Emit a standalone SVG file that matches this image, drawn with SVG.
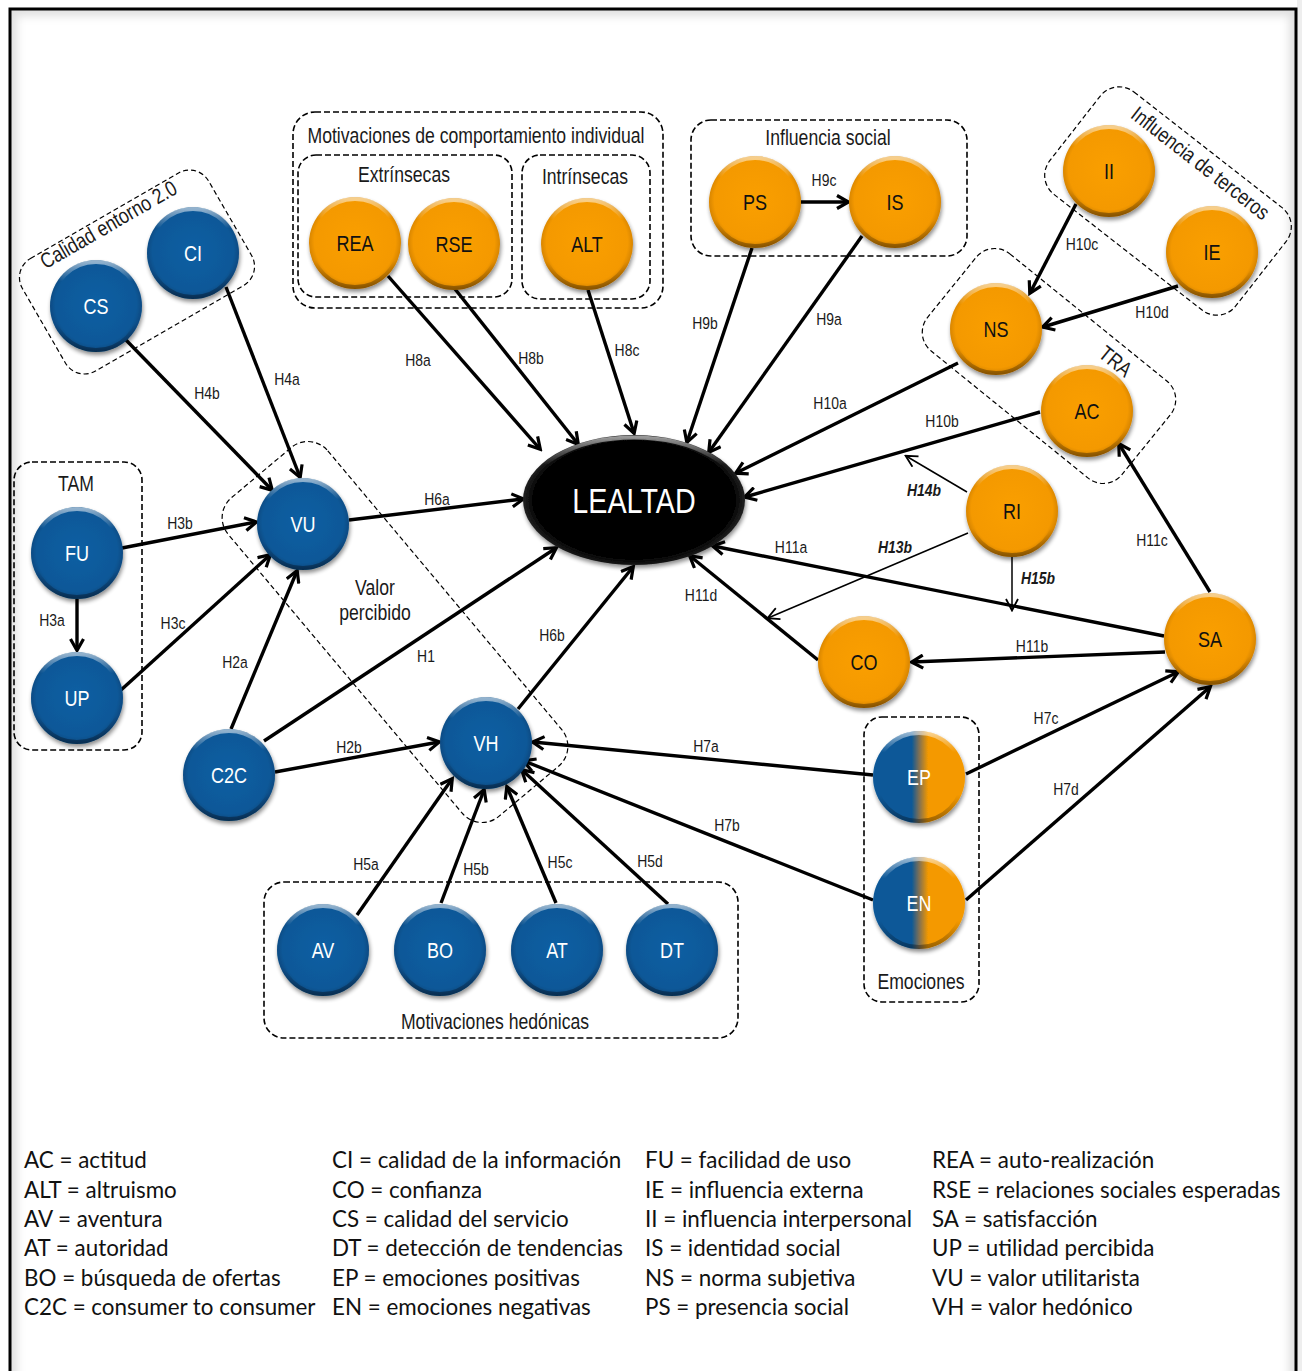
<svg xmlns="http://www.w3.org/2000/svg" width="1302" height="1371" viewBox="0 0 1302 1371">
  <style>
    /* condensed sans: Liberation Sans squeezed horizontally via each text's matrix() */
    .nar { font-family: "Liberation Sans", Arial, sans-serif; }
    .nl { font-size: 22px; text-anchor: middle; }
    .nl.w { fill: #ffffff; }
    .nl.k { fill: #111111; }
    .el { font-size: 17px; text-anchor: middle; fill: #1a1a1a; }
    .el.bi { font-weight: bold; font-style: italic; }
    .gt { font-size: 21.5px; text-anchor: middle; fill: #1a1a1a; }
    .box { fill: none; stroke: #000; stroke-width: 1.6; stroke-dasharray: 6 3; }
    .box.f { stroke-width: 1.2; stroke-dasharray: 5 3; }
    .e { fill: none; stroke: #000; stroke-width: 3.4; marker-end: url(#ah); }
    .e.t { stroke-width: 1.5; marker-end: url(#aht); }
    .rim { fill: none; stroke: url(#gRim); stroke-width: 4; }
    .leg { font-family: Lato, "Open Sans", sans-serif; font-size: 22.4px; fill: #111; }
  </style>
  <defs>
    <marker id="ah" viewBox="0 0 16 16" refX="12.5" refY="8" markerWidth="16" markerHeight="16" markerUnits="userSpaceOnUse" orient="auto">
      <path d="M1.5,1.5 L13,8 L1.5,14.5" fill="none" stroke="#000" stroke-width="3.2"/>
    </marker>
    <marker id="aht" viewBox="0 0 14 14" refX="12" refY="7" markerWidth="14" markerHeight="14" markerUnits="userSpaceOnUse" orient="auto">
      <path d="M1,1 L12.5,7 L1,13" fill="none" stroke="#000" stroke-width="1.8"/>
    </marker>
    <radialGradient id="gBlue" cx="50%" cy="48%" r="52%">
      <stop offset="0" stop-color="#0c5fa3"/>
      <stop offset="0.85" stop-color="#0a5898"/>
      <stop offset="1" stop-color="#07467c"/>
    </radialGradient>
    <radialGradient id="gOrange" cx="50%" cy="48%" r="52%">
      <stop offset="0" stop-color="#fa9f00"/>
      <stop offset="0.85" stop-color="#f49900"/>
      <stop offset="1" stop-color="#cf7f00"/>
    </radialGradient>
    <linearGradient id="gMix" x1="0" y1="0" x2="1" y2="0">
      <stop offset="0" stop-color="#0a5898"/>
      <stop offset="0.42" stop-color="#0a5898"/>
      <stop offset="0.5" stop-color="#7d6f55"/>
      <stop offset="0.6" stop-color="#f49900"/>
      <stop offset="1" stop-color="#f49900"/>
    </linearGradient>
    <radialGradient id="gBlack" cx="50%" cy="50%" r="50%">
      <stop offset="0" stop-color="#000"/>
      <stop offset="0.9" stop-color="#000"/>
      <stop offset="1" stop-color="#222"/>
    </radialGradient>
    <linearGradient id="gRim" x1="0" y1="0" x2="0" y2="1">
      <stop offset="0" stop-color="#fff" stop-opacity="0.55"/>
      <stop offset="0.22" stop-color="#fff" stop-opacity="0"/>
      <stop offset="0.7" stop-color="#000" stop-opacity="0"/>
      <stop offset="1" stop-color="#000" stop-opacity="0.35"/>
    </linearGradient>
    <filter id="sh" x="-25%" y="-25%" width="150%" height="155%">
      <feGaussianBlur in="SourceAlpha" stdDeviation="2"/>
      <feOffset dx="1" dy="2.5" result="o"/>
      <feComponentTransfer><feFuncA type="linear" slope="0.45"/></feComponentTransfer>
      <feMerge><feMergeNode/><feMergeNode in="SourceGraphic"/></feMerge>
    </filter>
    <filter id="soft" x="-5%" y="-5%" width="110%" height="110%">
      <feGaussianBlur stdDeviation="4"/>
    </filter>
    <clipPath id="frameClip"><rect x="10" y="9" width="1286" height="1400"/></clipPath>
  </defs>

  <!-- page frame -->
  <rect x="0" y="0" width="1302" height="1371" fill="#ffffff"/>
  <rect x="1297" y="0" width="5" height="1371" fill="#eeeeee"/>
  <rect x="10" y="9" width="1286" height="1400" fill="#ffffff"/>
  <g clip-path="url(#frameClip)">
    <rect x="10" y="9" width="1286" height="1400" fill="none" stroke="#000" stroke-opacity="0.12" stroke-width="14" filter="url(#soft)"/>
  </g>
  <rect x="10" y="9" width="1286" height="1400" fill="none" stroke="#000" stroke-width="3"/>

  <!-- group frames -->
  <g id="groups" class="nar">
    <g id="grp-calidad">
      <rect class="box f" x="29.5" y="207" width="215" height="130" rx="22" transform="rotate(-30 137 272)"/>
      <text class="gt" font-size="20" transform="translate(112 231) rotate(-30) scale(0.82 1)">Calidad entorno 2.0</text>
    </g>
    <g id="grp-motivaciones">
      <rect class="box" x="293" y="112" width="370" height="196" rx="22"/>
      <text class="gt" transform="matrix(0.82 0 0 1 476 143)">Motivaciones de comportamiento individual</text>
      <rect class="box" x="298" y="155" width="214" height="142" rx="18"/>
      <text class="gt" transform="matrix(0.82 0 0 1 404 182)">Extrínsecas</text>
      <rect class="box" x="522" y="155" width="128" height="144" rx="18"/>
      <text class="gt" transform="matrix(0.82 0 0 1 585 184)">Intrínsecas</text>
    </g>
    <g id="grp-social">
      <rect class="box" x="691" y="120" width="276" height="136" rx="20"/>
      <text class="gt" transform="matrix(0.82 0 0 1 828 145)">Influencia social</text>
    </g>
    <g id="grp-terceros">
      <rect class="box f" x="1050" y="136" width="236" height="130" rx="24" transform="rotate(38 1168 201)"/>
      <text class="gt" font-size="20" transform="translate(1196 169) rotate(38) scale(0.82 1)">Influencia de terceros</text>
    </g>
    <g id="grp-tra">
      <rect class="box f" x="924" y="303.5" width="250" height="125" rx="24" transform="rotate(39 1049 366)"/>
      <text class="gt" font-size="20" transform="translate(1111 367) rotate(39) scale(0.82 1)">TRA</text>
    </g>
    <g id="grp-tam">
      <rect class="box" x="14" y="462" width="128" height="288" rx="18"/>
      <text class="gt" transform="matrix(0.82 0 0 1 76 491)">TAM</text>
    </g>
    <g id="grp-valor">
      <rect class="box f" x="187" y="567" width="416" height="130" rx="26" transform="rotate(50 395 632)"/>
      <text class="gt" transform="matrix(0.82 0 0 1 375 595)">Valor</text>
      <text class="gt" transform="matrix(0.82 0 0 1 375 620)">percibido</text>
    </g>
    <g id="grp-hedonicas">
      <rect class="box" x="264" y="882" width="474" height="156" rx="20"/>
      <text class="gt" transform="matrix(0.82 0 0 1 495 1029)">Motivaciones hedónicas</text>
    </g>
    <g id="grp-emociones">
      <rect class="box" x="864" y="717" width="115" height="285" rx="18"/>
      <text class="gt" transform="matrix(0.82 0 0 1 921 989)">Emociones</text>
    </g>
  </g>

  <!-- connectors -->
  <g id="connectors">
    <path class="e" d="M126,340 L272,490"/>
    <path class="e" d="M226,287 L300,477"/>
    <path class="e" d="M122,548 L256,522"/>
    <path class="e" d="M77,599 L77,650"/>
    <path class="e" d="M121,690 L270,555"/>
    <path class="e" d="M231,729 L297,571"/>
    <path class="e" d="M264,741 L556,548"/>
    <path class="e" d="M275,772 L439,742"/>
    <path class="e" d="M349,520 L523,499"/>
    <path class="e" d="M518,709 L633,567"/>
    <path class="e" d="M388,276 L540,449"/>
    <path class="e" d="M455,289 L578,444"/>
    <path class="e" d="M588,290 L634,433"/>
    <path class="e" d="M752,248 L687,442"/>
    <path class="e" d="M862,236 L709,452"/>
    <path class="e" d="M801,202 L848,202"/>
    <path class="e" d="M1076,204 L1030,293"/>
    <path class="e" d="M1178,286 L1043,327"/>
    <path class="e" d="M958,363 L736,473"/>
    <path class="e" d="M1040,412 L745,497"/>
    <path class="e t" d="M967,492 L906,456"/>
    <path class="e t" d="M968,533 L768,618"/>
    <path class="e t" d="M1012,557 L1012,610"/>
    <path class="e" d="M1164,636 L713,546"/>
    <path class="e" d="M1165,652 L912,662"/>
    <path class="e" d="M1210,592 L1119,444"/>
    <path class="e" d="M818,660 L690,556"/>
    <path class="e" d="M873,775 L533,742"/>
    <path class="e" d="M873,900 L524,761"/>
    <path class="e" d="M966,774 L1178,672"/>
    <path class="e" d="M966,900 L1210,687"/>
    <path class="e" d="M357,915 L452,779"/>
    <path class="e" d="M441,903 L484,790"/>
    <path class="e" d="M556,903 L507,787"/>
    <path class="e" d="M668,904 L522,770"/>
    <g class="nar">
      <text class="el" transform="matrix(0.82 0 0 1 207 399)">H4b</text>
      <text class="el" transform="matrix(0.82 0 0 1 287 385)">H4a</text>
      <text class="el" transform="matrix(0.82 0 0 1 180 529)">H3b</text>
      <text class="el" transform="matrix(0.82 0 0 1 52 626)">H3a</text>
      <text class="el" transform="matrix(0.82 0 0 1 173 629)">H3c</text>
      <text class="el" transform="matrix(0.82 0 0 1 235 668)">H2a</text>
      <text class="el" transform="matrix(0.82 0 0 1 426 662)">H1</text>
      <text class="el" transform="matrix(0.82 0 0 1 349 753)">H2b</text>
      <text class="el" transform="matrix(0.82 0 0 1 437 505)">H6a</text>
      <text class="el" transform="matrix(0.82 0 0 1 552 641)">H6b</text>
      <text class="el" transform="matrix(0.82 0 0 1 418 366)">H8a</text>
      <text class="el" transform="matrix(0.82 0 0 1 531 364)">H8b</text>
      <text class="el" transform="matrix(0.82 0 0 1 627 356)">H8c</text>
      <text class="el" transform="matrix(0.82 0 0 1 705 329)">H9b</text>
      <text class="el" transform="matrix(0.82 0 0 1 829 325)">H9a</text>
      <text class="el" transform="matrix(0.82 0 0 1 824 186)">H9c</text>
      <text class="el" transform="matrix(0.82 0 0 1 1082 250)">H10c</text>
      <text class="el" transform="matrix(0.82 0 0 1 1152 318)">H10d</text>
      <text class="el" transform="matrix(0.82 0 0 1 830 409)">H10a</text>
      <text class="el" transform="matrix(0.82 0 0 1 942 427)">H10b</text>
      <text class="el bi" transform="matrix(0.82 0 0 1 924 496)">H14b</text>
      <text class="el bi" transform="matrix(0.82 0 0 1 895 553)">H13b</text>
      <text class="el bi" transform="matrix(0.82 0 0 1 1038 584)">H15b</text>
      <text class="el" transform="matrix(0.82 0 0 1 791 553)">H11a</text>
      <text class="el" transform="matrix(0.82 0 0 1 1032 652)">H11b</text>
      <text class="el" transform="matrix(0.82 0 0 1 1152 546)">H11c</text>
      <text class="el" transform="matrix(0.82 0 0 1 701 601)">H11d</text>
      <text class="el" transform="matrix(0.82 0 0 1 706 752)">H7a</text>
      <text class="el" transform="matrix(0.82 0 0 1 727 831)">H7b</text>
      <text class="el" transform="matrix(0.82 0 0 1 1046 724)">H7c</text>
      <text class="el" transform="matrix(0.82 0 0 1 1066 795)">H7d</text>
      <text class="el" transform="matrix(0.82 0 0 1 366 870)">H5a</text>
      <text class="el" transform="matrix(0.82 0 0 1 476 875)">H5b</text>
      <text class="el" transform="matrix(0.82 0 0 1 560 868)">H5c</text>
      <text class="el" transform="matrix(0.82 0 0 1 650 867)">H5d</text>
    </g>
  </g>

  <!-- nodes -->
  <g id="nodes" class="nar">
    <g id="node-LEALTAD">
      <ellipse cx="634" cy="500" rx="111" ry="65" fill="url(#gBlack)" filter="url(#sh)"/>
      <ellipse cx="634" cy="500" rx="108.5" ry="62.5" fill="none" stroke="url(#gRim)" stroke-width="4"/>
      <text font-size="35" text-anchor="middle" fill="#fff" transform="matrix(0.82 0 0 1 634 513)">LEALTAD</text>
    </g>
    <g id="node-CI"><circle cx="193" cy="253" r="46" fill="url(#gBlue)" filter="url(#sh)"/><circle class="rim" cx="193" cy="253" r="44"/><text class="nl w" transform="matrix(0.82 0 0 1 193 261)">CI</text></g>
    <g id="node-CS"><circle cx="96" cy="306" r="46" fill="url(#gBlue)" filter="url(#sh)"/><circle class="rim" cx="96" cy="306" r="44"/><text class="nl w" transform="matrix(0.82 0 0 1 96 314)">CS</text></g>
    <g id="node-VU"><circle cx="303" cy="524" r="46" fill="url(#gBlue)" filter="url(#sh)"/><circle class="rim" cx="303" cy="524" r="44"/><text class="nl w" transform="matrix(0.82 0 0 1 303 532)">VU</text></g>
    <g id="node-FU"><circle cx="77" cy="553" r="46" fill="url(#gBlue)" filter="url(#sh)"/><circle class="rim" cx="77" cy="553" r="44"/><text class="nl w" transform="matrix(0.82 0 0 1 77 561)">FU</text></g>
    <g id="node-UP"><circle cx="77" cy="698" r="46" fill="url(#gBlue)" filter="url(#sh)"/><circle class="rim" cx="77" cy="698" r="44"/><text class="nl w" transform="matrix(0.82 0 0 1 77 706)">UP</text></g>
    <g id="node-C2C"><circle cx="229" cy="775" r="46" fill="url(#gBlue)" filter="url(#sh)"/><circle class="rim" cx="229" cy="775" r="44"/><text class="nl w" transform="matrix(0.82 0 0 1 229 783)">C2C</text></g>
    <g id="node-VH"><circle cx="486" cy="743" r="46" fill="url(#gBlue)" filter="url(#sh)"/><circle class="rim" cx="486" cy="743" r="44"/><text class="nl w" transform="matrix(0.82 0 0 1 486 751)">VH</text></g>
    <g id="node-AV"><circle cx="323" cy="950" r="46" fill="url(#gBlue)" filter="url(#sh)"/><circle class="rim" cx="323" cy="950" r="44"/><text class="nl w" transform="matrix(0.82 0 0 1 323 958)">AV</text></g>
    <g id="node-BO"><circle cx="440" cy="950" r="46" fill="url(#gBlue)" filter="url(#sh)"/><circle class="rim" cx="440" cy="950" r="44"/><text class="nl w" transform="matrix(0.82 0 0 1 440 958)">BO</text></g>
    <g id="node-AT"><circle cx="557" cy="950" r="46" fill="url(#gBlue)" filter="url(#sh)"/><circle class="rim" cx="557" cy="950" r="44"/><text class="nl w" transform="matrix(0.82 0 0 1 557 958)">AT</text></g>
    <g id="node-DT"><circle cx="672" cy="950" r="46" fill="url(#gBlue)" filter="url(#sh)"/><circle class="rim" cx="672" cy="950" r="44"/><text class="nl w" transform="matrix(0.82 0 0 1 672 958)">DT</text></g>
    <g id="node-REA"><circle cx="355" cy="243" r="46" fill="url(#gOrange)" filter="url(#sh)"/><circle class="rim" cx="355" cy="243" r="44"/><text class="nl k" transform="matrix(0.82 0 0 1 355 251)">REA</text></g>
    <g id="node-RSE"><circle cx="454" cy="244" r="46" fill="url(#gOrange)" filter="url(#sh)"/><circle class="rim" cx="454" cy="244" r="44"/><text class="nl k" transform="matrix(0.82 0 0 1 454 252)">RSE</text></g>
    <g id="node-ALT"><circle cx="587" cy="244" r="46" fill="url(#gOrange)" filter="url(#sh)"/><circle class="rim" cx="587" cy="244" r="44"/><text class="nl k" transform="matrix(0.82 0 0 1 587 252)">ALT</text></g>
    <g id="node-PS"><circle cx="755" cy="202" r="46" fill="url(#gOrange)" filter="url(#sh)"/><circle class="rim" cx="755" cy="202" r="44"/><text class="nl k" transform="matrix(0.82 0 0 1 755 210)">PS</text></g>
    <g id="node-IS"><circle cx="895" cy="202" r="46" fill="url(#gOrange)" filter="url(#sh)"/><circle class="rim" cx="895" cy="202" r="44"/><text class="nl k" transform="matrix(0.82 0 0 1 895 210)">IS</text></g>
    <g id="node-II"><circle cx="1109" cy="171" r="46" fill="url(#gOrange)" filter="url(#sh)"/><circle class="rim" cx="1109" cy="171" r="44"/><text class="nl k" transform="matrix(0.82 0 0 1 1109 179)">II</text></g>
    <g id="node-IE"><circle cx="1212" cy="252" r="46" fill="url(#gOrange)" filter="url(#sh)"/><circle class="rim" cx="1212" cy="252" r="44"/><text class="nl k" transform="matrix(0.82 0 0 1 1212 260)">IE</text></g>
    <g id="node-NS"><circle cx="996" cy="329" r="46" fill="url(#gOrange)" filter="url(#sh)"/><circle class="rim" cx="996" cy="329" r="44"/><text class="nl k" transform="matrix(0.82 0 0 1 996 337)">NS</text></g>
    <g id="node-AC"><circle cx="1087" cy="411" r="46" fill="url(#gOrange)" filter="url(#sh)"/><circle class="rim" cx="1087" cy="411" r="44"/><text class="nl k" transform="matrix(0.82 0 0 1 1087 419)">AC</text></g>
    <g id="node-RI"><circle cx="1012" cy="511" r="46" fill="url(#gOrange)" filter="url(#sh)"/><circle class="rim" cx="1012" cy="511" r="44"/><text class="nl k" transform="matrix(0.82 0 0 1 1012 519)">RI</text></g>
    <g id="node-SA"><circle cx="1210" cy="639" r="46" fill="url(#gOrange)" filter="url(#sh)"/><circle class="rim" cx="1210" cy="639" r="44"/><text class="nl k" transform="matrix(0.82 0 0 1 1210 647)">SA</text></g>
    <g id="node-CO"><circle cx="864" cy="662" r="46" fill="url(#gOrange)" filter="url(#sh)"/><circle class="rim" cx="864" cy="662" r="44"/><text class="nl k" transform="matrix(0.82 0 0 1 864 670)">CO</text></g>
    <g id="node-EP"><circle cx="919" cy="777" r="46" fill="url(#gMix)" filter="url(#sh)"/><circle class="rim" cx="919" cy="777" r="44"/><text class="nl w" transform="matrix(0.82 0 0 1 919 785)">EP</text></g>
    <g id="node-EN"><circle cx="919" cy="903" r="46" fill="url(#gMix)" filter="url(#sh)"/><circle class="rim" cx="919" cy="903" r="44"/><text class="nl w" transform="matrix(0.82 0 0 1 919 911)">EN</text></g>
  </g>

  <!-- abbreviations -->
  <g id="legend" class="leg">
    <text x="24" y="1168">AC = actitud</text>
    <text x="24" y="1197.5">ALT = altruismo</text>
    <text x="24" y="1227">AV = aventura</text>
    <text x="24" y="1256">AT = autoridad</text>
    <text x="24" y="1285.5">BO = búsqueda de ofertas</text>
    <text x="24" y="1315">C2C = consumer to consumer</text>
    <text x="332" y="1168">CI = calidad de la información</text>
    <text x="332" y="1197.5">CO = confianza</text>
    <text x="332" y="1227">CS = calidad del servicio</text>
    <text x="332" y="1256">DT = detección de tendencias</text>
    <text x="332" y="1285.5">EP = emociones positivas</text>
    <text x="332" y="1315">EN = emociones negativas</text>
    <text x="645" y="1168">FU = facilidad de uso</text>
    <text x="645" y="1197.5">IE = influencia externa</text>
    <text x="645" y="1227">II = influencia interpersonal</text>
    <text x="645" y="1256">IS = identidad social</text>
    <text x="645" y="1285.5">NS = norma subjetiva</text>
    <text x="645" y="1315">PS = presencia social</text>
    <text x="932" y="1168">REA = auto-realización</text>
    <text x="932" y="1197.5">RSE = relaciones sociales esperadas</text>
    <text x="932" y="1227">SA = satisfacción</text>
    <text x="932" y="1256">UP = utilidad percibida</text>
    <text x="932" y="1285.5">VU = valor utilitarista</text>
    <text x="932" y="1315">VH = valor hedónico</text>
  </g>
</svg>
